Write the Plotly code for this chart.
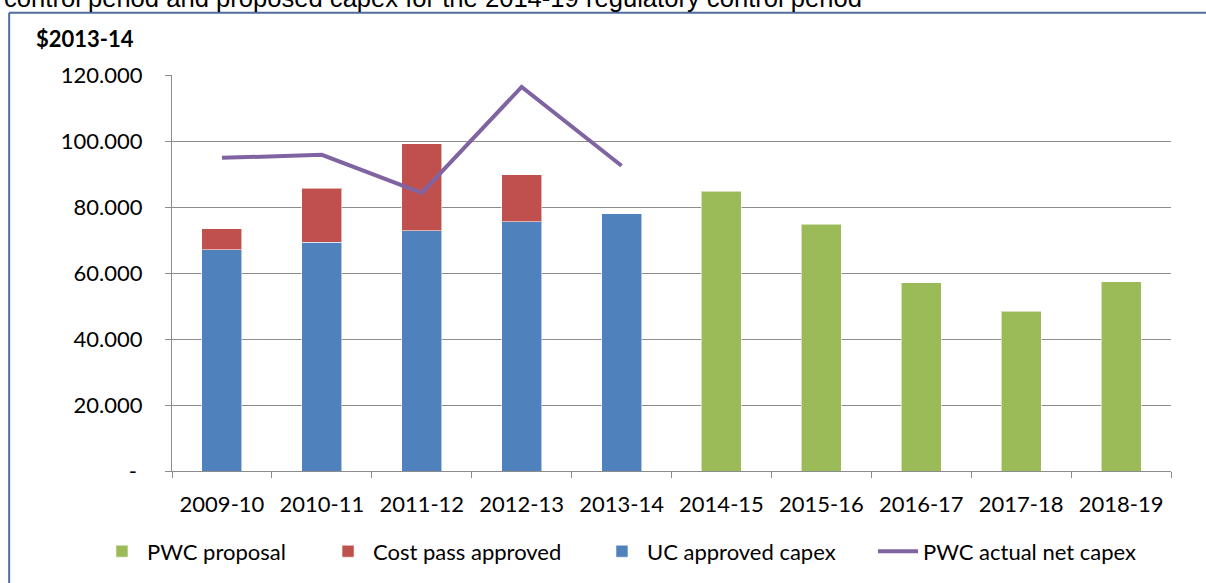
import plotly.graph_objects as go

# data ($m, 2013-14 dollars)
years = ["2009-10", "2010-11", "2011-12", "2012-13", "2013-14",
         "2014-15", "2015-16", "2016-17", "2017-18", "2018-19"]
uc_approved = [67.0, 69.3, 72.8, 75.6, 78.0, None, None, None, None, None]
cost_pass = [6.4, 16.4, 26.4, 14.1, None, None, None, None, None, None]
pwc_proposal = [None, None, None, None, None, 84.8, 74.8, 57.0, 48.4, 57.4]
pwc_actual = [94.9, 95.8, 84.3, 116.4, 92.5, None, None, None, None, None]

y_ticks = [0, 20, 40, 60, 80, 100, 120]
y_ticktext = ["-\u00a0", "20.000", "40.000", "60.000", "80.000", "100.000", "120.000"]

GREEN = "#9BBB59"
RED = "#C0504D"
BLUE = "#4F81BD"
PURPLE = "#8064A2"
GRID = "#8C8C8C"
FONT = "Lato, Carlito, 'Open Sans', sans-serif"

edge = dict(width=1, color="rgba(255,255,255,0.55)")

fig = go.Figure()
# stacking order: blue at the bottom, red on top
# each series gets its own legend box so the entries can be spaced like the original
fig.add_trace(go.Bar(x=years, y=uc_approved, name="UC approved capex",
                     marker=dict(color=BLUE, line=edge), legend="legend3"))
fig.add_trace(go.Bar(x=years, y=cost_pass, name="Cost pass approved",
                     marker=dict(color=RED, line=edge), legend="legend2"))
fig.add_trace(go.Bar(x=years, y=pwc_proposal, name="PWC proposal",
                     marker=dict(color=GREEN, line=edge), legend="legend"))
fig.add_trace(go.Scatter(x=years, y=pwc_actual, name="PWC actual net capex",
                         mode="lines", line=dict(color=PURPLE, width=4),
                         legend="legend4"))


def legend_at(x):
    return dict(orientation="h", x=x, xanchor="left", y=-0.2, yanchor="middle",
                font=dict(family=FONT, size=22, color="#000000"),
                itemwidth=40, bgcolor="rgba(0,0,0,0)")


fig.update_layout(
    width=1206,
    height=583,
    margin=dict(l=172, r=35, t=75, b=111),
    barmode="stack",
    bargap=0.6,
    plot_bgcolor="white",
    paper_bgcolor="white",
    font=dict(family=FONT, size=22, color="#000000"),
    showlegend=True,
    legend=legend_at(-0.0751),
    legend2=legend_at(0.1512),
    legend3=legend_at(0.4254),
    legend4=legend_at(0.7017),
    xaxis=dict(
        type="category",
        showline=True, linecolor=GRID, linewidth=1,
        ticks="outside", ticklen=6, tickcolor=GRID,
        tickson="boundaries",
        showgrid=False,
        tickfont=dict(size=22),
        ticklabelstandoff=14,
    ),
    yaxis=dict(
        range=[0, 120],
        tickvals=y_ticks,
        ticktext=y_ticktext,
        showline=True, linecolor=GRID, linewidth=1,
        ticks="outside", ticklen=6, tickcolor=GRID,
        showgrid=True, gridcolor=GRID, gridwidth=1,
        zeroline=False,
        tickfont=dict(size=22),
        ticklabelstandoff=18,
    ),
)

# units label and the clipped caption above the chart frame
fig.add_annotation(text="<b>$2013-14</b>", xref="paper", yref="paper",
                   x=-0.138, y=1.093, xanchor="left", yanchor="middle",
                   showarrow=False, font=dict(family=FONT, size=22))
fig.add_annotation(
    text="control period and proposed capex for the 2014-19 regulatory control period",
    xref="paper", yref="paper", x=-0.17, y=1.195, xanchor="left", yanchor="middle",
    showarrow=False,
    font=dict(family="'Liberation Sans Narrow', 'Liberation Sans', Arial", size=25.6))

# frame lines (left and top edge of the chart box)
fig.add_shape(type="line", xref="paper", yref="paper",
              x0=-0.163, x1=1.05, y0=1.157, y1=1.157,
              line=dict(color="#4F6E9C", width=2))
fig.add_shape(type="line", xref="paper", yref="paper",
              x0=-0.163, x1=-0.163, y0=1.157, y1=-0.3,
              line=dict(color="#4F6E9C", width=2))

# drop the default page margin so the figure sits at the window's corner
fig.write_html("out.html", config={"displayModeBar": False},
               post_script="document.body.style.margin='0';")
